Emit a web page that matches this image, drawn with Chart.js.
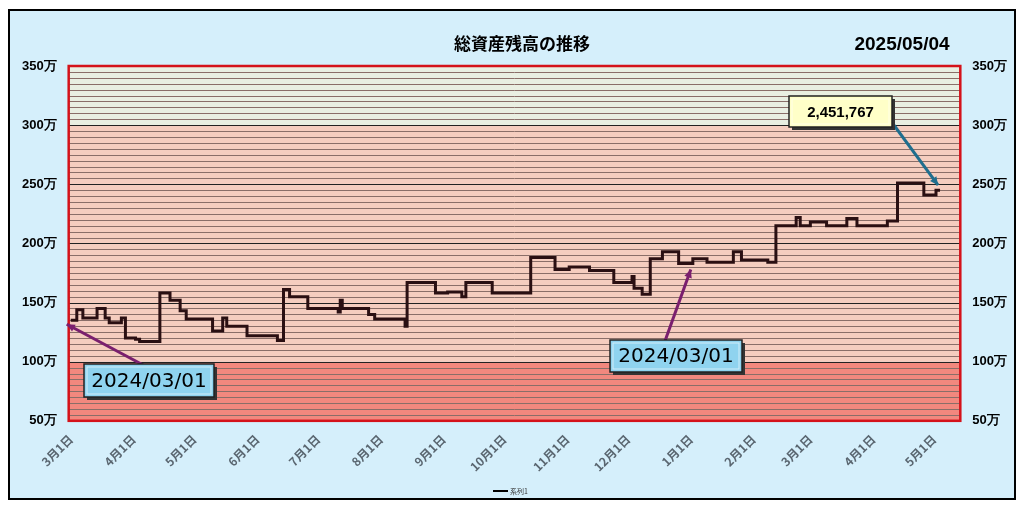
<!DOCTYPE html>
<html><head><meta charset="utf-8">
<script src="https://cdn.jsdelivr.net/npm/chart.js@4"></script>
<style>
html,body{margin:0;padding:0;background:#fff;}
#wrap{position:absolute;left:8px;top:9px;width:1004px;height:487px;border:2px solid #000;background:#d5effb;}
canvas{display:block;}
</style></head><body>
<div id="wrap"><canvas id="c" width="1004" height="487"></canvas></div>
<script>
const days=[0,3,6,13,17,19,25,27,32,34,44,49,54,57,70,75,77,87,102,105,108,117,132,133,134,147,150,165,166,180,186,193,195,208,227,239,246,256,268,277,278,282,286,292,300,307,314,327,331,344,348,358,360,365,373,383,388,403,408,421,427,429];
const values=[135,144,137,145,137,133,137,120,119,117,158,152,143,136,126,137,130,122,118,161,155,145,142,152,145,140,136,130,167,158,159,155,167,158,188,178,180,177,167,172,162,157,187,193,183,187,184,193,186,184,215,222,215,218,215,221,215,219,251,241,245,245];
const monthDays=[0,31,61,92,122,153,184,214,245,275,306,337,365,396,426];
const monthLabels=['3月1日','4月1日','5月1日','6月1日','7月1日','8月1日','9月1日','10月1日','11月1日','12月1日','1月1日','2月1日','3月1日','4月1日','5月1日'];
const yTicks=[50,100,150,200,250,300,350];
const title='総資産残高の推移';
const dateLabel='2025/05/04';
const lastValueLabel='2,451,767';
const callouts=[{day:0,label:'2024/03/01'},{day:306,label:'2024/03/01'}];

const pts=days.map((d,i)=>({x:d,y:values[i]}));

const bands={id:'bands',beforeDatasetsDraw(ch){
  const {ctx,chartArea:a,scales:{x,y}}=ch;
  const fill=(lo,hi,c)=>{ctx.fillStyle=c;ctx.fillRect(a.left,y.getPixelForValue(hi),a.width,y.getPixelForValue(lo)-y.getPixelForValue(hi));};
  ctx.save();
  fill(50,100,'#f2887e');fill(100,300,'#f5cdbf');fill(300,350,'#e9efe2');
  for(let v=55;v<350;v+=5){const p=Math.round(y.getPixelForValue(v))+0.5;
    ctx.strokeStyle=v%50===0?'#222':'#8a6e68';ctx.lineWidth=v%50===0?1.2:1;
    ctx.beginPath();ctx.moveTo(a.left,p);ctx.lineTo(a.right,p);ctx.stroke();}
  ctx.strokeStyle='#d4121a';ctx.lineWidth=2.5;ctx.strokeRect(a.left,a.top,a.width,a.height);
  ctx.restore();
}};
function arrow(ctx,x1,y1,x2,y2,c){
  ctx.strokeStyle=c;ctx.fillStyle=c;ctx.lineWidth=3;
  ctx.beginPath();ctx.moveTo(x1,y1);ctx.lineTo(x2,y2);ctx.stroke();
  const an=Math.atan2(y2-y1,x2-x1),L=9;
  ctx.beginPath();ctx.moveTo(x2,y2);ctx.lineTo(x2-L*Math.cos(an-0.45),y2-L*Math.sin(an-0.45));
  ctx.lineTo(x2-L*Math.cos(an+0.45),y2-L*Math.sin(an+0.45));ctx.closePath();ctx.fill();
}
function box(ctx,x,y,w,h,bg,txt,font){
  ctx.fillStyle='#333';ctx.fillRect(x+3,y+3,w,h);
  ctx.fillStyle=bg;ctx.fillRect(x,y,w,h);
  ctx.strokeStyle='#222';ctx.lineWidth=1.5;ctx.strokeRect(x,y,w,h);
  ctx.strokeStyle='rgba(255,255,255,0.6)';ctx.lineWidth=1;ctx.strokeRect(x+3,y+3,w-6,h-6);
  ctx.fillStyle='#000';ctx.font=font;ctx.textAlign='center';ctx.textBaseline='middle';ctx.fillText(txt,x+w/2,y+h/2+1);
}
const deco={id:'deco',afterDraw(ch){
  const {ctx,scales:{x,y}}=ch;ctx.save();
  ctx.fillStyle='#000';ctx.textAlign='center';ctx.textBaseline='middle';
  ctx.font='bold 17px "Noto Sans CJK JP"';ctx.fillText(title,512,33);
  ctx.font='bold 19px "Liberation Sans"';ctx.fillText(dateLabel,892,34);
  const c0=callouts[0],c1=callouts[1];
  arrow(ctx,135,355,x.getPixelForValue(c0.day)-4,y.getPixelForValue(values[0])+4,'#7a1f6e');
  box(ctx,74,353,130,33,'#8fd3ef',c0.label,'20px "DejaVu Sans"');
  const li=days.findIndex(d=>d>=c1.day);
  arrow(ctx,655,330,x.getPixelForValue(c1.day),y.getPixelForValue(values[li-1])+6,'#7a1f6e');
  box(ctx,600,329,132,32,'#8fd3ef',c1.label,'20px "DejaVu Sans"');
  const ld=days[days.length-1],lv=values[values.length-1];
  arrow(ctx,875,102,x.getPixelForValue(ld)-2,y.getPixelForValue(lv)-5,'#1f6e8e');
  box(ctx,779,85,103,31,'#ffffc8',lastValueLabel,'bold 15px "Liberation Sans"');
  ctx.strokeStyle='#000';ctx.lineWidth=2;ctx.beginPath();ctx.moveTo(483,480);ctx.lineTo(498,480);ctx.stroke();
  ctx.fillStyle='#333';ctx.font='7px "Noto Sans CJK JP"';ctx.textAlign='left';ctx.fillText('系列1',500,480);
  ctx.restore();
}};
const yAxis=(pos)=>({type:'linear',position:pos,min:50,max:350,
  afterBuildTicks(s){s.ticks=yTicks.map(v=>({value:v}));},
  grid:{display:false},border:{display:false},
  ticks:{color:'#000',font:{family:'Liberation Sans',weight:'bold',size:13},padding:4,callback:v=>v+'万'}});
new Chart(document.getElementById('c'),{
  type:'line',
  data:{datasets:[{data:pts,stepped:true,borderColor:'#2a0f12',borderWidth:3,pointRadius:0,fill:false}]},
  options:{responsive:false,animation:false,
    layout:{padding:{left:8,right:3,top:55,bottom:21}},
    plugins:{legend:{display:false},tooltip:{enabled:false}},
    scales:{
      x:{type:'linear',min:-1,max:439,
        afterBuildTicks(s){s.ticks=monthDays.map(v=>({value:v}));},
        grid:{display:false},border:{display:false},
        ticks:{color:'#5a6670',maxRotation:45,minRotation:45,autoSkip:false,
          font:{family:'Noto Sans CJK JP',weight:'bold',size:12},
          callback:(v)=>monthLabels[monthDays.indexOf(v)]}},
      y:yAxis('left'),y2:yAxis('right')
    }},
  plugins:[bands,deco]
});
</script></body></html>
